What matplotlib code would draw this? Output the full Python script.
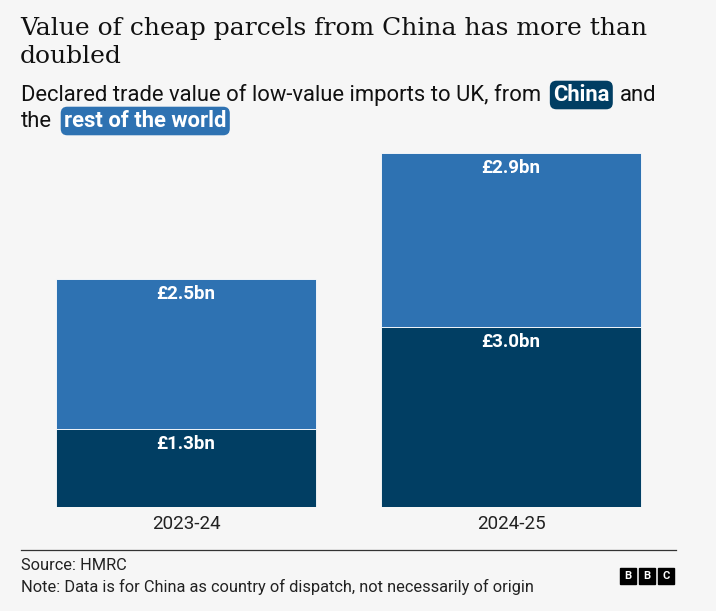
import matplotlib.pyplot as plt
from matplotlib.patches import Rectangle

years = ["2023-24", "2024-25"]
china = [1.3, 3.0]
rest = [2.5, 2.9]
china_labels = ["£1.3bn", "£3.0bn"]
rest_labels = ["£2.5bn", "£2.9bn"]

BG = "#f6f6f6"
DARK = "#013e63"
BLUE = "#2e72b2"
W, H = 716, 611
SANS = ["Roboto", "DejaVu Sans"]
SERIF = ["DejaVu Serif"]

fig = plt.figure(figsize=(W / 100, H / 100), dpi=100, facecolor=BG)


def fx(x):
    return x / W


def fy(y):
    return 1 - y / H


ax = fig.add_axes([fx(21), fy(507), 655 / W, (507 - 140) / H])
ax.set_facecolor(BG)
xs = list(range(len(years)))
ax.bar(xs, china, width=0.8, color=DARK, edgecolor="white", linewidth=0.6)
ax.bar(xs, rest, bottom=china, width=0.8, color=BLUE, edgecolor="white", linewidth=0.6)
ax.set_xlim(-0.508, 1.508)
ax.set_ylim(0, 367 / 60)
for s in ax.spines.values():
    s.set_visible(False)
ax.set_yticks([])
ax.set_xticks(xs)
ax.set_xticklabels(years, fontsize=13.5, family=SANS, color="#222222")
ax.tick_params(axis="x", length=0, pad=6)

for i in xs:
    ax.annotate(china_labels[i], (i, china[i]), xytext=(0, -11), textcoords="offset points",
                ha="center", va="center", color="white", fontsize=13.5, fontweight="bold", family=SANS)
    ax.annotate(rest_labels[i], (i, china[i] + rest[i]), xytext=(0, -11), textcoords="offset points",
                ha="center", va="center", color="white", fontsize=13.5, fontweight="bold", family=SANS)

# Title
title_kw = dict(fontsize=18, family=SERIF, color="#111111", va="baseline", ha="left")
fig.text(fx(20), fy(35), "Value of cheap parcels from China has more than", **title_kw)
fig.text(fx(20), fy(63), "doubled", **title_kw)

# Subtitle with highlighted words
fig.canvas.draw()
r = fig.canvas.get_renderer()
FS = 15.8
sub_kw = dict(fontsize=FS, family=SANS, color="#111111", va="baseline", ha="left")
y1 = fy(101)
t1 = fig.text(fx(21), y1, "Declared trade value of low-value imports to UK, from", **sub_kw)
e1 = t1.get_window_extent(r)
x_china = e1.x1 + 12
t2 = fig.text(x_china / W, y1, "China", fontsize=FS, family=SANS, color="white",
              fontweight="bold", va="baseline", ha="left",
              bbox=dict(boxstyle="round,pad=0.15,rounding_size=0.3", fc=DARK, ec="none"))
e2 = t2.get_window_extent(r)
t3 = fig.text((e2.x1 + 10) / W, y1, "and", **sub_kw)
y2 = fy(127)
t4 = fig.text(fx(21), y2, "the", **sub_kw)
e4 = t4.get_window_extent(r)
t5 = fig.text((e4.x1 + 12) / W, y2, "rest of the world", fontsize=FS, family=SANS, color="white",
              fontweight="bold", va="baseline", ha="left",
              bbox=dict(boxstyle="round,pad=0.15,rounding_size=0.3", fc=BLUE, ec="none"))

# Footer
fig.add_artist(plt.Line2D([fx(21), fx(676)], [fy(550), fy(550)], color="#333333", linewidth=0.9))
fig.text(fx(21), fy(566), "Source: HMRC", fontsize=11.8, family=SANS, color="#222222", va="center")
fig.text(fx(21), fy(587), "Note: Data is for China as country of dispatch, not necessarily of origin",
         fontsize=11.8, family=SANS, color="#222222", va="center")

# BBC logo
for k, letter in enumerate("BBC"):
    x0 = 620 + k * 19
    fig.add_artist(Rectangle((fx(x0), fy(584)), 16 / W, 16 / H, color="black", transform=fig.transFigure))
    fig.text(fx(x0 + 8), fy(576), letter, fontsize=8, fontweight="bold", color="white",
             ha="center", va="center", family=SANS)

fig.savefig("out.png", dpi=100, facecolor=BG)
